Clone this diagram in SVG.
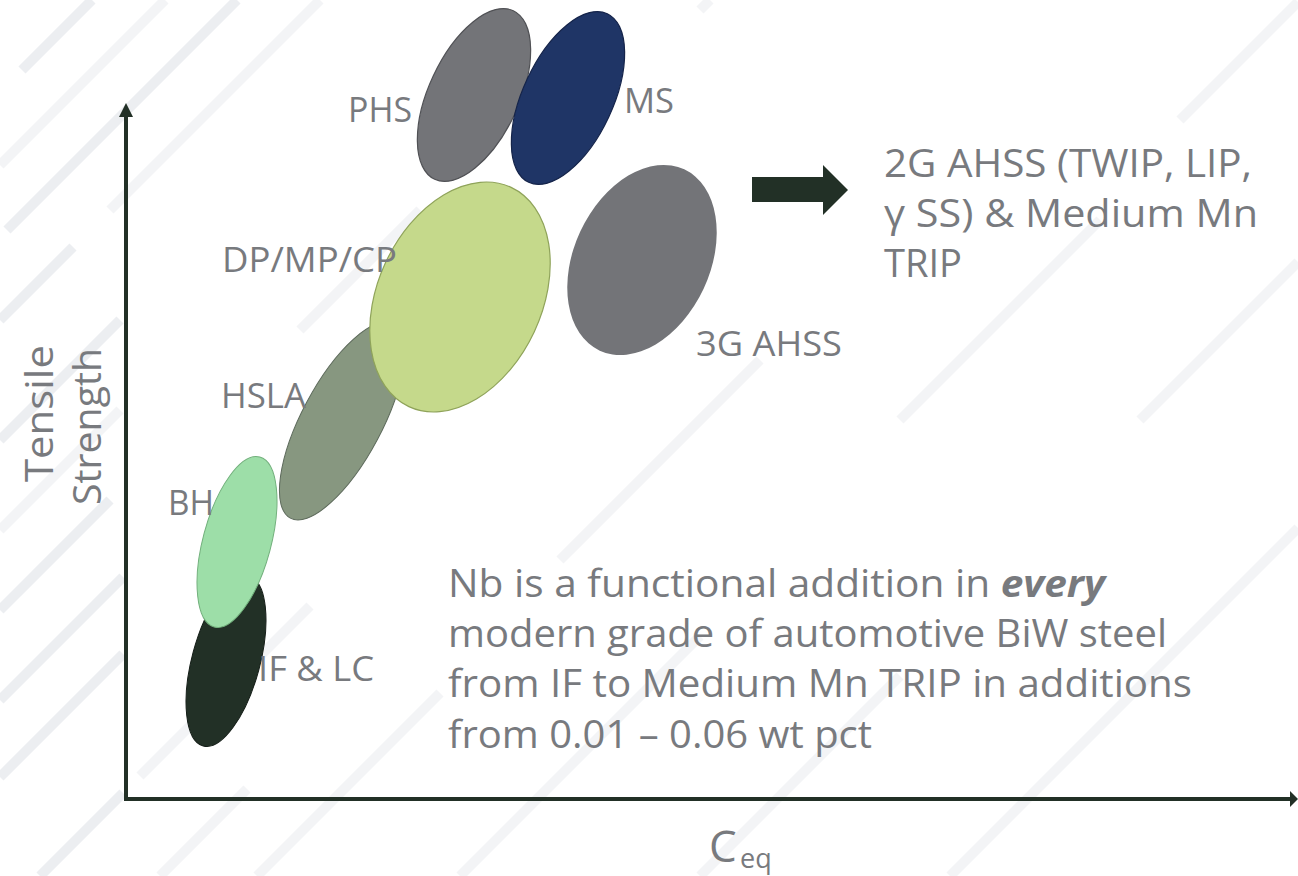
<svg xmlns="http://www.w3.org/2000/svg" width="1298" height="876" viewBox="0 0 1298 876">
<style>
.bg{stroke:#eceef1;stroke-width:10;stroke-linecap:butt;fill:none}
.bgl{stroke:#f3f4f6;stroke-width:10;stroke-linecap:butt;fill:none}
.lbl{font-family:"Open Sans","Noto Sans","Liberation Sans",sans-serif;fill:#787a7e;font-size:34px}
.big{font-family:"Open Sans","Noto Sans","Liberation Sans",sans-serif;fill:#787a7e;font-size:38px}
.axis{stroke:#223026;stroke-width:4;fill:none}
.dark{fill:#223026}
</style>
<rect width="1298" height="876" fill="#ffffff"/>
<g id="background">
<line class="bg" x1="22" y1="70" x2="92" y2="0"/>
<line class="bgl" x1="0" y1="165" x2="165" y2="0"/>
<line class="bg" x1="7" y1="230" x2="237" y2="0"/>
<line class="bgl" x1="110" y1="210" x2="320" y2="0"/>
<line class="bg" x1="0" y1="320" x2="73" y2="247"/>
<line class="bg" x1="0" y1="440" x2="120" y2="320"/>
<line class="bgl" x1="0" y1="530" x2="120" y2="410"/>
<line class="bg" x1="0" y1="610" x2="110" y2="500"/>
<line class="bg" x1="0" y1="700" x2="123" y2="577"/>
<line class="bg" x1="0" y1="777" x2="123" y2="654"/>
<line class="bg" x1="40" y1="876" x2="123" y2="793"/>
<line class="bgl" x1="160" y1="876" x2="247" y2="789"/>
<line class="bgl" x1="257" y1="876" x2="440" y2="693"/>
<line class="bgl" x1="140" y1="776" x2="310" y2="606"/>
<line class="bgl" x1="460" y1="876" x2="700" y2="636"/>
<line class="bgl" x1="700" y1="876" x2="900" y2="676"/>
<line class="bgl" x1="950" y1="876" x2="1298" y2="528"/>
<line class="bgl" x1="1140" y1="420" x2="1298" y2="262"/>
<line class="bgl" x1="1180" y1="120" x2="1298" y2="2"/>
<line class="bgl" x1="700" y1="10" x2="710" y2="0"/>
<line class="bgl" x1="300" y1="330" x2="420" y2="210"/>
<line class="bgl" x1="560" y1="560" x2="760" y2="360"/>
<line class="bgl" x1="900" y1="420" x2="1100" y2="220"/>
</g>
<g id="connectors">
<line class="axis" x1="126" y1="115" x2="126" y2="801"/>
<line class="axis" x1="124" y1="799" x2="1291" y2="799"/>
<polygon class="dark" points="126,103 119,117 133,117"/>
<polygon class="dark" points="1298,799 1290,791 1290,807"/>
<polygon class="dark" points="752,177 823,177 823,165 848,190 823,215 823,202 752,202"/>
</g>
<g id="node-if-lc">
<ellipse cx="226" cy="661" rx="34" ry="88" transform="rotate(15 226 661)" fill="#223026" stroke="#141d17" stroke-width="1"/>
<text class="lbl" x="258" y="681" textLength="116" lengthAdjust="spacingAndGlyphs">IF &amp; LC</text>
</g>
<g id="node-bh">
<ellipse cx="237" cy="542" rx="34" ry="88" transform="rotate(15 237 542)" fill="#9ddea8" stroke="#72b07c" stroke-width="1"/>
<text class="lbl" x="168" y="515" textLength="46" lengthAdjust="spacingAndGlyphs">BH</text>
</g>
<g id="node-hsla">
<ellipse cx="342" cy="421" rx="40" ry="110" transform="rotate(28 342 421)" fill="#879780" stroke="#5d6a5b" stroke-width="1"/>
<text class="lbl" x="221" y="408" textLength="85" lengthAdjust="spacingAndGlyphs">HSLA</text>
</g>
<g id="node-dp">
<ellipse cx="460" cy="297" rx="82" ry="121" transform="rotate(25 460 297)" fill="#c5d98b" stroke="#8fa35a" stroke-width="1.2"/>
<text class="lbl" x="222" y="272" textLength="175" lengthAdjust="spacingAndGlyphs">DP/MP/CP</text>
</g>
<g id="node-phs">
<ellipse cx="474" cy="95" rx="45" ry="93" transform="rotate(25 474 95)" fill="#737478" stroke="#505155" stroke-width="1.2"/>
<text class="lbl" x="348" y="122" textLength="64" lengthAdjust="spacingAndGlyphs">PHS</text>
</g>
<g id="node-ms">
<ellipse cx="568" cy="98" rx="45" ry="93" transform="rotate(25 568 98)" fill="#1f3566" stroke="#15244a" stroke-width="1.2"/>
<text class="lbl" x="624" y="113" textLength="50" lengthAdjust="spacingAndGlyphs">MS</text>
</g>
<g id="node-3g">
<ellipse cx="642" cy="260" rx="68" ry="100" transform="rotate(25 642 260)" fill="#737478"/>
<text class="lbl" x="696" y="356" textLength="146" lengthAdjust="spacingAndGlyphs">3G AHSS</text>
</g>
<g id="node-2g">
<text class="big" x="884" y="177" textLength="368" lengthAdjust="spacingAndGlyphs">2G AHSS (TWIP, LIP,</text>
<text class="big" x="884" y="227" textLength="374" lengthAdjust="spacingAndGlyphs">γ SS) &amp; Medium Mn</text>
<text class="big" x="884" y="277" textLength="78" lengthAdjust="spacingAndGlyphs">TRIP</text>
</g>
<g id="note">
<text class="big" x="448" y="597" textLength="657" lengthAdjust="spacingAndGlyphs">Nb is a functional addition in <tspan font-weight="bold" font-style="italic">every</tspan></text>
<text class="big" x="448" y="647" textLength="719" lengthAdjust="spacingAndGlyphs">modern grade of automotive BiW steel</text>
<text class="big" x="448" y="697" textLength="744" lengthAdjust="spacingAndGlyphs">from IF to Medium Mn TRIP in additions</text>
<text class="big" x="448" y="748" textLength="424" lengthAdjust="spacingAndGlyphs">from 0.01 – 0.06 wt pct</text>
</g>
<g id="axis-labels">
<text class="big" transform="translate(53 482) rotate(-90)" textLength="137" lengthAdjust="spacingAndGlyphs">Tensile</text>
<text class="big" transform="translate(101 505) rotate(-90)" textLength="157" lengthAdjust="spacingAndGlyphs">Strength</text>
<text class="big" x="709" y="862" style="font-size:44px">C</text>
<text class="lbl" x="740" y="868" style="font-size:27px">eq</text>
</g>
</svg>
